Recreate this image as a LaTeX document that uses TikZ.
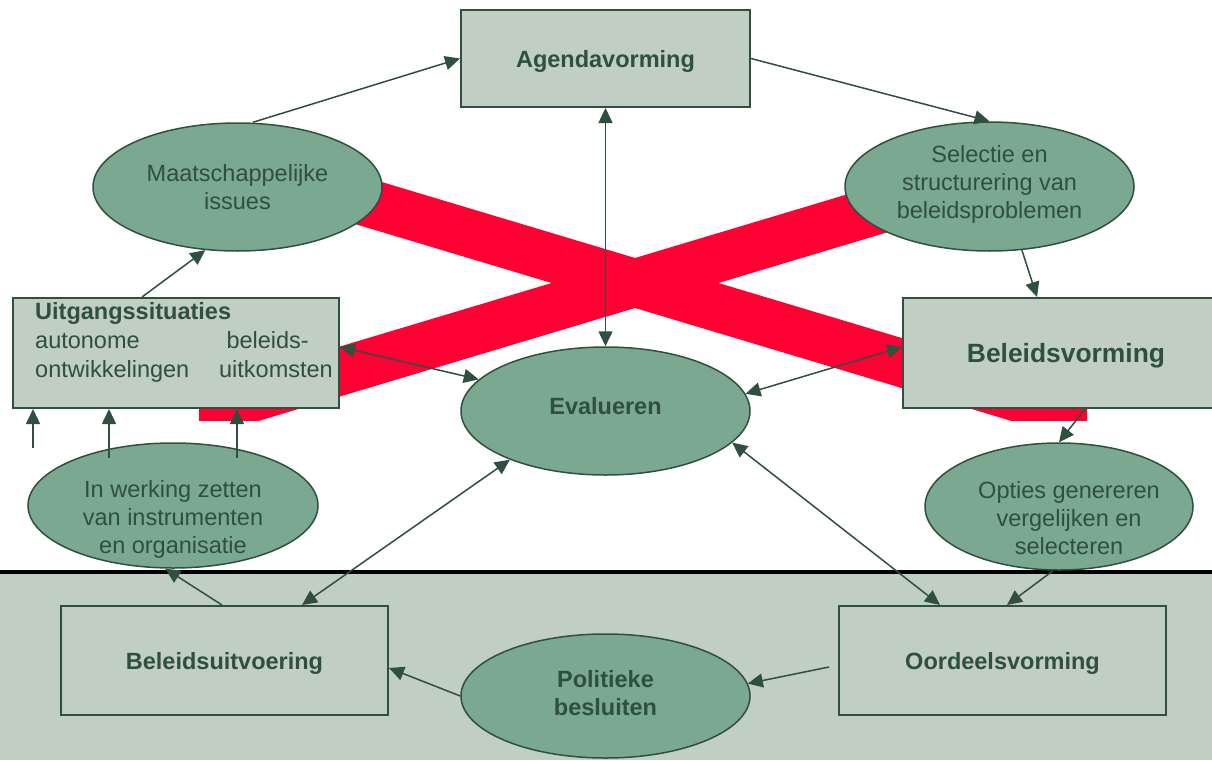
\documentclass[tikz,border=0pt]{standalone}
\usepackage{fontspec}
\setmainfont{Liberation Sans}
\usetikzlibrary{shapes.geometric,arrows.meta,calc}
\definecolor{dg}{RGB}{47,79,63}
\definecolor{lf}{RGB}{192,206,195}
\definecolor{ef}{RGB}{123,168,144}
\definecolor{rd}{RGB}{255,0,51}
\begin{document}
\begin{tikzpicture}[x=1pt,y=-1pt,
  every node/.style={font=\fontsize{23.5}{28}\selectfont, text=dg},
  box/.style={draw=dg, line width=2pt, fill=lf, rectangle, inner sep=0pt, text depth=0pt},
  oval/.style={draw=dg, line width=1.5pt, fill=ef, ellipse, inner sep=0pt},
  txt/.style={inner sep=0pt, align=center},
  bf/.style={font=\fontsize{23.5}{28}\selectfont\bfseries},
  con/.style={draw=dg, line width=1.5pt, -{Triangle[length=15pt,width=14pt]}},
  bicon/.style={draw=dg, line width=1.5pt, {Triangle[length=15pt,width=14pt]}-{Triangle[length=15pt,width=14pt]}}
]
\useasboundingbox (0,0) rectangle (1212,760);
\fill[white] (0,0) rectangle (1212,760);
\fill[lf] (0,572) rectangle (1212,760);
\draw[black, line width=4pt] (0,572) -- (1212,572);
% red cross
\begin{scope}
  \clip (199,146) rectangle (1087,420);
  \fill[rd] (100,97.5) -- (1200,427.5) -- (1200,477.5) -- (100,147.5) -- cycle;
  \fill[rd] (100,418.5) -- (1200,88.5) -- (1200,138.5) -- (100,468.5) -- cycle;
\end{scope}
% boxes
\node[box, minimum width=289pt, minimum height=97pt, bf] (ag) at (605.5,58.5) {Agendavorming};
\node[box, minimum width=326pt, minimum height=110pt] (uit) at (176,353) {};
\node[box, minimum width=326pt, minimum height=110pt, font=\fontsize{26.4}{30}\selectfont\bfseries] (bv) at (1066,353) {Beleidsvorming};
\node[box, minimum width=327pt, minimum height=109pt, bf] (bu) at (224.5,660.5) {Beleidsuitvoering};
\node[box, minimum width=327pt, minimum height=109pt, bf] (od) at (1002.5,660.5) {Oordeelsvorming};
% text of Uitgangssituaties
\node[bf, anchor=base west, inner sep=0pt] (uitT) at (35,319) {Uitgangssituaties};
\node[anchor=base west, inner sep=0pt] (uitA) at (35,348) {autonome};
\node[anchor=base east, inner sep=0pt] (uitB) at (309,348) {beleids-};
\node[anchor=base west, inner sep=0pt] (uitC) at (35,377) {ontwikkelingen};
\node[anchor=base east, inner sep=0pt] (uitD) at (333,377) {uitkomsten};
% ellipses
\node[oval, minimum width=289pt, minimum height=128pt] (mi) at (237.5,187) {};
\node[txt] (miT) at (237.5,187) {Maatschappelijke\\issues};
\node[oval, minimum width=289pt, minimum height=129pt] (sel) at (989.5,186.5) {};
\node[txt] (selT) at (989.5,184) {Selectie en\\structurering van\\beleidsproblemen};
\node[oval, minimum width=289pt, minimum height=128pt] (ev) at (605.5,411) {};
\node[txt, bf] (evT) at (605.5,406) {Evalueren};
\node[oval, minimum width=290pt, minimum height=125pt] (iw) at (173,505.5) {};
\node[txt] (iwT) at (173,519) {In werking zetten\\van instrumenten\\en organisatie};
\node[oval, minimum width=268pt, minimum height=127pt] (op) at (1059,506.5) {};
\node[txt] (opT) at (1069,518) {Opties genereren\\vergelijken en\\selecteren};
\node[oval, minimum width=289pt, minimum height=124pt] (pb) at (605.5,696) {};
\node[txt, bf] (pbT) at (605.5,693) {Politieke\\besluiten};
% connectors
\draw[con] ([xshift=15.5pt]mi.north) -- (ag.west);
\draw[con] (ag.east) -- (sel.north);
\draw[bicon] (ag.south) -- (ev.north);
\draw[con] (sel.-63) -- ([xshift=-29pt]bv.north);
\draw[con] ([xshift=19pt]bv.south) -- (op.north);
\draw[bicon] (ev.7) -- ([yshift=6pt]bv.west);
\draw[bicon] ([yshift=6pt]uit.east) -- (ev.166);
\draw[con] ([xshift=-34pt]uit.north) -- (mi.-117);
\coordinate (f1) at (33,448);
\coordinate (f2) at (109,458);
\coordinate (f3) at (237,458);
\draw[con] (f1) -- (f1 |- uit.south);
\draw[con] (f2) -- (f2 |- uit.south);
\draw[con] (f3) -- (f3 |- uit.south);
\draw[bicon] (ev.-153) -- ([xshift=77.5pt]bu.north);
\draw[con] ([xshift=-2.5pt]bu.north) -- (iw.-97);
\draw[con] (pb.west) -- ([yshift=-7.5pt]bu.east);
\draw[con] ([xshift=-9pt,yshift=-6.5pt]od.west) -- (pb.5);
\draw[bicon] (ev.-14) -- ([xshift=-62.5pt]od.north);
\draw[con] ([xshift=-6pt]op.south) -- ([xshift=4.5pt]od.north);
\end{tikzpicture}
\end{document}
